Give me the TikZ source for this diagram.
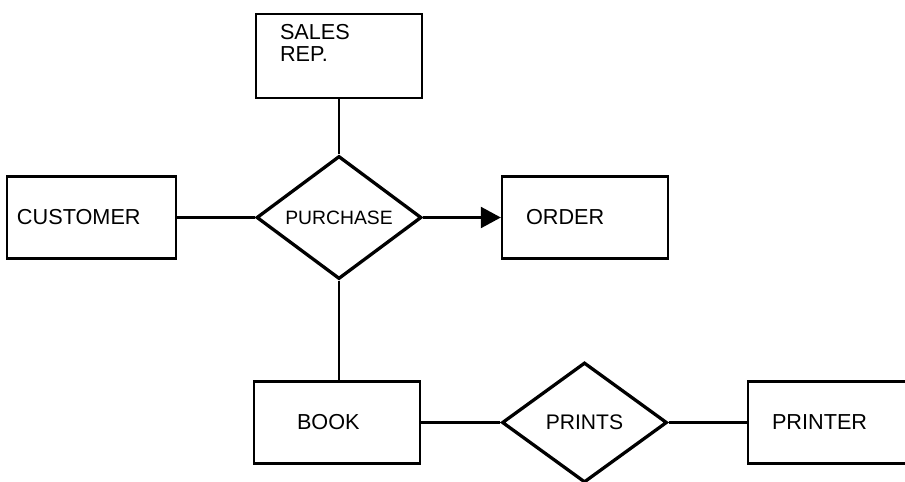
\documentclass[tikz,border=0pt]{standalone}
\usepackage{fontspec}
\setmainfont{Liberation Sans}
\usetikzlibrary{shapes.geometric,arrows.meta}

\tikzset{
  entity/.style={draw, line width=2pt, minimum height=2.46cm,
                 inner xsep=0.72cm, text width=3.54cm, align=left,
                 font=\fontsize{18.5}{18.7}\selectfont},
  relation/.style={diamond, draw, line width=2.8pt, minimum width=4.95cm,
                   minimum height=3.69cm, inner sep=0pt},
  link/.style={line width=2pt}
}

\begin{document}
\begin{tikzpicture}[x=0.03cm, y=-0.03cm]
  \useasboundingbox (0,0) rectangle (905,482);

  \node[entity, anchor=north, inner ysep=0pt, text height=0.765cm, text depth=1.755cm] (salesrep) at (339,13) {SALES\\REP.};
  \node[entity, inner xsep=0.3cm, text width=4.47cm] (customer) at (91.5,217.5) {CUSTOMER};
  \node[relation, font=\fontsize{16.5}{16.5}\selectfont] (purchase) at (339,217.5) {PURCHASE};
  \node[entity] (order) at (585,217.5) {ORDER};
  \node[entity, inner xsep=1.29cm, text width=2.4cm] (book) at (337,422.5) {BOOK};
  \node[relation, minimum height=3.6cm, font=\fontsize{18}{18}\selectfont] (prints) at (584.5,422.5) {PRINTS};
  \node[entity] (printer) at (831,422.5) {PRINTER};

  \draw[link] (salesrep) -- (purchase);
  \draw[link] (customer) -- (purchase);
  \draw[link, -{Triangle[length=0.6cm, width=0.63cm]}] (purchase) -- (order);
  \draw[link] (purchase) -- (purchase |- book.north);
  \draw[link] (book) -- (prints);
  \draw[link] (prints) -- (printer);
\end{tikzpicture}
\end{document}
